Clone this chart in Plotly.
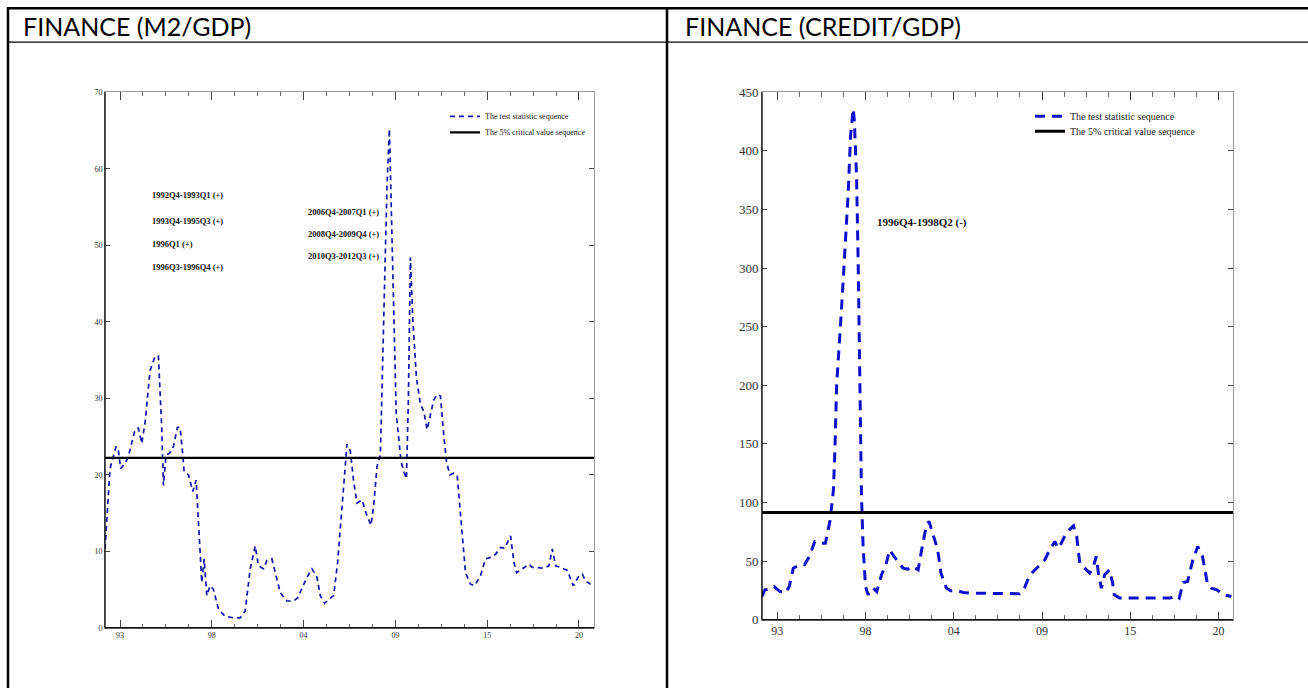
import plotly.graph_objects as go

# ---------------- data ----------------
m2_year = [1992.1, 1992.4, 1992.6, 1992.76, 1992.9, 1993.04, 1993.3, 1993.5, 1993.9, 1994.1,
           1994.3, 1994.5, 1994.8, 1995.1, 1995.3, 1995.5, 1995.6, 1995.76, 1995.96, 1996.2,
           1996.44, 1996.6, 1996.76, 1996.84, 1997.1, 1997.36, 1997.56, 1997.7, 1997.9, 1998.04,
           1998.2, 1998.4, 1998.6, 1998.9, 1999.3, 1999.8, 2000.2, 2000.5, 2000.8, 2001.1,
           2001.3, 2001.6, 2001.8, 2002.1, 2002.3, 2002.6, 2003.0, 2003.4, 2003.64, 2004.2,
           2004.5, 2004.8, 2005.0, 2005.26, 2005.5, 2005.8, 2006.04, 2006.4, 2006.6, 2006.8,
           2007.0, 2007.2, 2007.5, 2007.76, 2008.04, 2008.2, 2008.4, 2008.6, 2008.8, 2009.0,
           2009.14, 2009.25, 2009.4, 2009.55, 2009.7, 2009.84, 2010.04, 2010.16, 2010.28, 2010.4,
           2010.55, 2010.76, 2011.0, 2011.2, 2011.4, 2011.56, 2011.8, 2012.0, 2012.2, 2012.36,
           2012.56, 2012.76, 2013.0, 2013.2, 2013.5, 2013.7, 2014.0, 2014.24, 2014.6, 2014.9,
           2015.2, 2015.5, 2015.8, 2016.04, 2016.4, 2016.6, 2016.76, 2017.1, 2017.5, 2017.7,
           2018.1, 2018.4, 2018.7, 2018.9, 2019.1, 2019.4, 2019.8, 2020.16, 2020.5, 2020.7,
           2020.9, 2021.2]
m2_stat = [10.3, 20.8, 22.4, 23.7, 23.2, 20.8, 21.5, 22.4, 25.9, 26.1,
           24.1, 26.8, 33.6, 35.5, 35.5, 26.1, 18.6, 22.6, 22.8, 23.7,
           26.2, 26.2, 22.6, 20.4, 20.0, 17.8, 19.3, 13.8, 5.9, 9.0,
           4.2, 5.5, 5.0, 2.4, 1.5, 1.3, 1.3, 2.2, 7.7, 10.7,
           8.1, 7.7, 8.8, 9.0, 7.2, 4.6, 3.5, 3.5, 3.9, 6.6,
           7.7, 6.6, 4.2, 3.2, 3.7, 4.2, 8.6, 19.1, 24.0, 23.1,
           19.1, 16.3, 16.7, 14.9, 13.4, 16.0, 21.1, 22.6, 40.0, 58.0,
           65.2, 55.0, 38.0, 28.0, 24.8, 21.7, 20.2, 19.5, 30.0, 48.4,
           40.0, 32.7, 29.2, 28.3, 25.9, 27.4, 29.8, 30.5, 30.3, 26.1,
           21.7, 20.0, 20.2, 20.0, 12.9, 7.2, 5.7, 5.5, 6.8, 9.0,
           9.2, 9.6, 10.5, 10.4, 12.0, 8.6, 7.2, 7.7, 8.3, 7.9,
           7.8, 7.8, 8.1, 10.3, 8.1, 7.9, 7.5, 5.5, 6.8, 7.0,
           6.1, 5.7]
m2_critical = 22.2

credit_year = [1992.05, 1992.23, 1992.44, 1992.8, 1993.17, 1993.5, 1993.75, 1994.0, 1994.4, 1994.7,
               1995.0, 1995.34, 1995.76, 1996.0, 1996.3, 1996.5, 1996.6, 1996.7, 1997.0, 1997.2,
               1997.42, 1997.57, 1997.73, 1997.8, 1997.94, 1998.04, 1998.12, 1998.25, 1998.35, 1998.5,
               1998.66, 1998.8, 1998.98, 1999.2, 1999.5, 1999.8, 2000.0, 2000.2, 2000.5, 2000.84,
               2001.15, 2001.46, 2001.78, 2002.0, 2002.3, 2002.46, 2002.7, 2003.0, 2003.2, 2003.54,
               2003.8, 2004.16, 2004.6, 2005.0, 2005.5, 2006.0, 2006.5, 2007.3, 2008.1, 2008.4,
               2008.7, 2008.9, 2009.36, 2009.67, 2009.98, 2010.3, 2010.5, 2010.7, 2010.9, 2011.2,
               2011.46, 2011.66, 2011.85, 2012.15, 2012.47, 2012.67, 2012.88, 2013.04, 2013.2, 2013.4,
               2013.7, 2013.9, 2014.0, 2014.33, 2015.0, 2016.0, 2017.5, 2017.85, 2018.05, 2018.3,
               2018.57, 2018.9, 2019.2, 2019.5, 2019.8, 2020.05, 2020.4, 2020.8, 2021.3]
credit_stat = [19.9, 25.6, 26.0, 28.4, 24.1, 22.7, 28.4, 44.0, 46.9, 46.9,
               54.0, 66.8, 65.3, 65.3, 85.2, 110.8, 147.7, 200.0, 264.0, 307.0,
               364.0, 413.0, 436.0, 427.0, 379.0, 307.0, 235.0, 105.0, 62.5, 28.4,
               21.3, 25.6, 27.0, 24.0, 38.4, 48.3, 59.7, 55.4, 49.7, 44.0,
               43.2, 45.5, 42.6, 59.7, 81.0, 83.8, 73.9, 59.7, 39.8, 27.0,
               24.7, 25.0, 23.3, 22.7, 22.7, 22.7, 22.7, 22.2, 22.2, 27.0,
               37.0, 40.3, 46.9, 51.0, 59.7, 66.8, 61.0, 65.3, 71.0, 76.7,
               80.1, 71.0, 48.3, 44.0, 39.8, 44.0, 54.0, 37.0, 27.0, 38.4,
               42.6, 31.3, 21.3, 18.5, 18.5, 18.5, 18.5, 20.7, 18.5, 31.8,
               32.7, 51.0, 62.5, 54.0, 31.3, 27.0, 25.6, 21.3, 19.9]
credit_critical = 91.5

tick_years = [1993, 1998.5, 2004, 2009.5, 2015, 2020.5]
tick_text = ["93", "98", "04", "09", "15", "20"]

m2_periods = ["1992Q4-1993Q1 (+)", "1993Q4-1995Q3 (+)", "1996Q1 (+)", "1996Q3-1996Q4 (+)"]
m2_periods_b = ["2006Q4-2007Q1 (+)", "2008Q4-2009Q4 (+)", "2010Q3-2012Q3 (+)"]
credit_periods = ["1996Q4-1998Q2 (-)"]

headers = ["FINANCE (M2/GDP)", "FINANCE (CREDIT/GDP)"]
legend_names = ["The test statistic sequence", "The 5% critical value sequence"]

# ---------------- layout helpers ----------------
W, H = 1308, 696
def fx(p):
    return p / W
def fy(p):
    # map a target on-screen pixel row to a paper fraction
    y_set = p / 0.9775 - 8
    return 1 - y_set / H

X_RANGE_L = [1992.1, 2021.4]
X_RANGE_R = [1992.05, 2021.4]

fig = go.Figure()

# left chart
fig.add_trace(go.Scatter(x=m2_year, y=m2_stat, mode="lines", name=legend_names[0],
                         line=dict(color="#1414a8", width=1.7, dash="5px,4px"),
                         xaxis="x", yaxis="y", legend="legend"))
fig.add_trace(go.Scatter(x=X_RANGE_L, y=[m2_critical, m2_critical], mode="lines", name=legend_names[1],
                         line=dict(color="black", width=2.2),
                         xaxis="x", yaxis="y", legend="legend2"))
# right chart
fig.add_trace(go.Scatter(x=credit_year, y=credit_stat, mode="lines", name=legend_names[0],
                         line=dict(color="#1010cc", width=3, dash="10px,7px"),
                         xaxis="x2", yaxis="y2", legend="legend3"))
fig.add_trace(go.Scatter(x=X_RANGE_R, y=[credit_critical, credit_critical], mode="lines", name=legend_names[1],
                         line=dict(color="black", width=3),
                         xaxis="x2", yaxis="y2", legend="legend4"))

small_font = dict(family="Liberation Serif", size=8, color="#333")
big_font = dict(family="Liberation Serif", size=13, color="#333")

def xax(domain, rng, font, ticklen, minorlen):
    return dict(domain=domain, range=rng, tickmode="array", tickvals=tick_years, ticktext=tick_text,
                ticks="inside", ticklen=ticklen, tickcolor="#444", tickwidth=1,
                minor=dict(ticks="inside", ticklen=minorlen, dtick=1.375, tick0=1993, tickcolor="#666"),
                showline=True, linecolor="#9a9a9a", linewidth=1, mirror="ticks",
                showgrid=False, zeroline=False, tickfont=font, fixedrange=True)

def yax(domain, rng, dtick, font, anchor, ticklen):
    return dict(domain=domain, range=rng, dtick=dtick, anchor=anchor,
                ticks="inside", ticklen=ticklen, tickcolor="#444", tickwidth=1,
                showline=True, linecolor="#9a9a9a", linewidth=1, mirror="ticks",
                showgrid=False, zeroline=False, tickfont=font, fixedrange=True)

def leg(xpx, ypx, size):
    return dict(x=fx(xpx), y=fy(ypx), xanchor="left", yanchor="middle", bgcolor="rgba(0,0,0,0)",
                font=dict(family="Liberation Serif", size=size, color="#222"), tracegroupgap=0)

fig.update_layout(
    width=W, height=H, margin=dict(l=0, r=0, t=0, b=0),
    paper_bgcolor="white", plot_bgcolor="white",
    xaxis=xax([fx(105), fx(594)], X_RANGE_L, small_font, 8, 4) | dict(anchor="y"),
    yaxis=yax([fy(628), fy(93)], [0, 70], 10, small_font, "x", 5),
    xaxis2=xax([fx(762), fx(1233)], X_RANGE_R, dict(family="Liberation Serif", size=12, color="#333"), 8, 5) | dict(anchor="y2"),
    yaxis2=yax([fy(620), fy(93)], [0, 450], 50, big_font, "x2", 5),
    legend=leg(445, 117, 8),
    legend2=leg(445, 133, 8),
    legend3=leg(1030, 117, 10),
    legend4=leg(1030, 132, 10),
    showlegend=True,
)

shapes = []
# darker left/bottom axis lines
for xr, yr, w in [("x domain", "y domain", 1.4), ("x2 domain", "y2 domain", 1.4)]:
    shapes.append(dict(type="line", xref=xr, yref=yr, x0=0, x1=0, y0=0, y1=1, line=dict(color="#111", width=w)))
    shapes.append(dict(type="line", xref=xr, yref=yr, x0=0, x1=1, y0=0, y1=0, line=dict(color="#111", width=w)))
# table lines
shapes.append(dict(type="line", xref="paper", yref="paper", x0=fx(7), x1=1, y0=1 - 1.2 / H, y1=1 - 1.2 / H, line=dict(color="black", width=2.5)))
shapes.append(dict(type="line", xref="paper", yref="paper", x0=fx(7), x1=1, y0=fy(43), y1=fy(43), line=dict(color="black", width=1.2)))
shapes.append(dict(type="line", xref="paper", yref="paper", x0=fx(8), x1=fx(8), y0=1, y1=0, line=dict(color="black", width=2.5)))
shapes.append(dict(type="line", xref="paper", yref="paper", x0=fx(667), x1=fx(667), y0=1, y1=0, line=dict(color="black", width=2.5)))
fig.update_layout(shapes=shapes)

ann = []
hdr_font = dict(family="Lato", size=25, color="black")
ann.append(dict(text=headers[0], x=fx(21), y=fy(27), xref="paper", yref="paper", xanchor="left", yanchor="middle", showarrow=False, font=hdr_font))
ann.append(dict(text=headers[1], x=fx(683), y=fy(27), xref="paper", yref="paper", xanchor="left", yanchor="middle", showarrow=False, font=hdr_font))

lab_font = dict(family="Liberation Serif", size=8.5, color="#111")
for i, t in enumerate(m2_periods):
    ann.append(dict(text="<b>%s</b>" % t, x=fx(150), y=fy([196, 222, 245, 268][i]), xref="paper", yref="paper",
                    xanchor="left", yanchor="middle", showarrow=False, font=lab_font))
for i, t in enumerate(m2_periods_b):
    ann.append(dict(text="<b>%s</b>" % t, x=fx(306), y=fy([213, 235, 257][i]), xref="paper", yref="paper",
                    xanchor="left", yanchor="middle", showarrow=False, font=lab_font))
ann.append(dict(text="<b>%s</b>" % credit_periods[0], x=fx(875), y=fy(223), xref="paper", yref="paper",
                xanchor="left", yanchor="middle", showarrow=False,
                font=dict(family="Liberation Serif", size=11, color="#111")))
fig.update_layout(annotations=ann)

fig.write_html("out.html", config={"displayModeBar": False},
               post_script="document.body.style.margin='0px';document.body.style.overflow='hidden';")
